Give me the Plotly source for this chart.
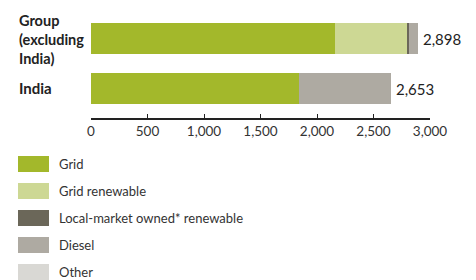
import plotly.graph_objects as go

categories = ["India", "Group<br>(excluding<br>India)"]
series_names = ["Grid", "Grid renewable", "Local-market owned* renewable", "Diesel", "Other"]
grid = [1840, 2160]
grid_renewable = [0, 643]
local_renewable = [0, 8]
diesel = [813, 87]
other = [0, 0]
totals = [2653, 2898]
total_labels = ["2,653", "2,898"]
tick_vals = [0, 500, 1000, 1500, 2000, 2500, 3000]
tick_text = ["0", "500", "1,000", "1,500", "2,000", "2,500", "3,000"]
colors = ["#a3b82b", "#cdd894", "#6b6759", "#aeaaa2", "#d9d8d4"]

FONT = "Lato"
W, H = 476, 280
L, R, T, B = 91, 46, 14, 162
pw, ph = W - L - R, H - T - B

def px_x(p):
    return (p - L) / pw

def px_y(p):
    return (H - B - p) / ph

ypos = [0, 1]
fig = go.Figure()
for name, vals, col in zip(series_names, [grid, grid_renewable, local_renewable, diesel, other], colors):
    fig.add_trace(go.Bar(x=vals, y=ypos, orientation="h", name=name,
                         marker=dict(color=col, line=dict(width=0)), width=0.62,
                         showlegend=False))

# total labels
for yv, tot, lab in zip(ypos, totals, total_labels):
    fig.add_annotation(x=tot, y=yv, text=lab, showarrow=False, xanchor="left",
                       xshift=3, font=dict(family=FONT, size=15, color="#222222"))

# category labels
fig.add_annotation(xref="paper", yref="paper", x=px_x(17), y=px_y(88), text="<b>India</b>",
                   showarrow=False, xanchor="left", yanchor="middle", align="left",
                   font=dict(family=FONT, size=15, color="#222222"))
fig.add_annotation(xref="paper", yref="paper", x=px_x(17), y=px_y(39), text="<b>" + categories[1].replace("<br>", "</b><br><b>") + "</b>",
                   showarrow=False, xanchor="left", yanchor="middle", align="left",
                   font=dict(family=FONT, size=14.5, color="#222222"))

# legend
for i, (name, col) in enumerate(zip(series_names, colors)):
    top = 156 + i * 27
    fig.add_shape(type="rect", xref="paper", yref="paper", x0=px_x(18), x1=px_x(49),
                  y0=px_y(top + 16), y1=px_y(top), fillcolor=col, line=dict(width=0))
    fig.add_annotation(xref="paper", yref="paper", x=px_x(57), y=px_y(top + 8), text=name,
                       showarrow=False, xanchor="left", yanchor="middle",
                       font=dict(family=FONT, size=13, color="#333333"))

fig.update_layout(
    width=W, height=H, margin=dict(l=L, r=R, t=T, b=B),
    barmode="stack", plot_bgcolor="white", paper_bgcolor="white",
    xaxis=dict(range=[0, 3000], tickvals=tick_vals, ticktext=tick_text, showgrid=False,
               zeroline=False, showline=True, linecolor="#222222", linewidth=1.5,
               ticks="inside", ticklen=4, tickcolor="#222222", tickwidth=1.2,
               tickfont=dict(family=FONT, size=13.5, color="#333333"), fixedrange=True),
    yaxis=dict(range=[-0.59, 1.49], showticklabels=False, showgrid=False, zeroline=False,
               showline=False, fixedrange=True),
)

fig.write_html("out.html", config={"displayModeBar": False},
               post_script="document.body.style.margin='0px';document.body.style.overflow='hidden';")
